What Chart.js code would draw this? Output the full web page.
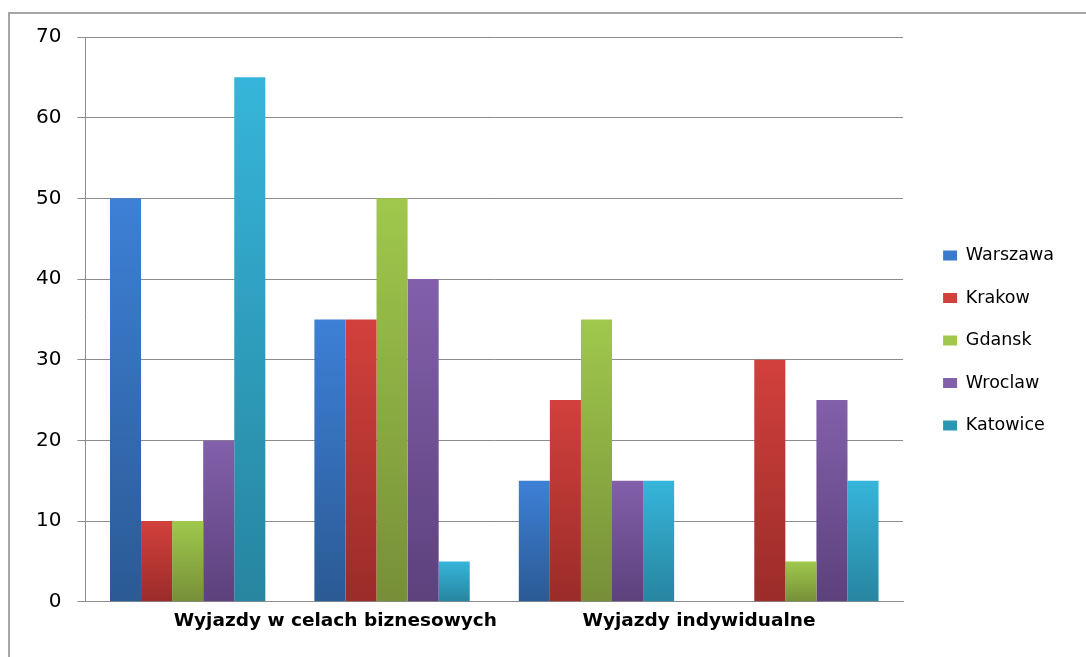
<!DOCTYPE html>
<html>
<head>
<meta charset="utf-8">
<script src="https://cdn.jsdelivr.net/npm/chart.js@4/dist/chart.umd.min.js"></script>
<style>
  html, body { margin: 0; padding: 0; background: #fff; }
  #wrap { position: relative; width: 1086px; height: 657px; }
  /* ramka wykresu - widoczna tylko z lewej i u gory */
  #frame { position: absolute; left: 8px; top: 12px; right: 0; bottom: 0;
           border-top: 2px solid #a6a6a6; border-left: 2px solid #a6a6a6; }
  #myChart { position: absolute; left: 0; top: 0; }
</style>
</head>
<body>
<div id="wrap">
  <div id="frame"></div>
  <canvas id="myChart" width="1086" height="657"></canvas>
</div>
<script>
// kategorie (etykiety osi X pokazane tylko co druga)
const categories = ["Wyjazdy w celach biznesowych", "", "Wyjazdy indywidualne", ""];

const cities = ["Warszawa", "Krakow", "Gdansk", "Wroclaw", "Katowice"];

const warszawa = [50, 35, 15, null];
const krakow = [10, 35, 25, 30];
const gdansk = [10, 50, 35, 5];
const wroclaw = [20, 40, 15, 25];
const katowice = [65, 5, 15, 15];

const yTicks = [0, 10, 20, 30, 40, 50, 60, 70];

// kolory: gora / dol gradientu
const topColors = ["#3d80d6", "#d2403c", "#a0c84c", "#8260aa", "#36b5da"];
const bottomColors = ["#2b5a94", "#9a2c29", "#768f38", "#5c417d", "#27859f"];
const midColors = ["#3570ba", "#bb3734", "#8cb042", "#715294", "#2f9fbf"];

const seriesData = [warszawa, krakow, gdansk, wroclaw, katowice];

function barGradient(i) {
  return (ctx) => {
    const chart = ctx.chart;
    const y = chart.scales && chart.scales.y;
    if (ctx.type !== "data" || !chart.chartArea || !y || ctx.raw == null) {
      return midColors[i];
    }
    const top = y.getPixelForValue(ctx.raw);
    const bottom = y.getPixelForValue(0);
    if (bottom - top < 1) return midColors[i];
    const g = chart.ctx.createLinearGradient(0, top, 0, bottom);
    g.addColorStop(0, topColors[i]);
    g.addColorStop(1, bottomColors[i]);
    return g;
  };
}

const ctx = document.getElementById("myChart");

new Chart(ctx, {
  type: "bar",
  data: {
    labels: categories,
    datasets: cities.map((name, i) => ({
      label: name,
      data: seriesData[i],
      backgroundColor: barGradient(i),
      borderWidth: 0,
      barPercentage: 1,
      categoryPercentage: 0.76,
    })),
  },
  options: {
    responsive: false,
    animation: false,
    devicePixelRatio: 1,
    layout: {
      padding: { left: 20, top: 37, right: 22, bottom: 25 },
    },
    plugins: {
      tooltip: { enabled: false },
      legend: {
        position: "right",
        // pusty tytul - lekko przesuwa legende w dol
        title: { display: true, text: " ", padding: 0, font: { size: 10 } },
        labels: {
          color: "#000",
          font: { family: "DejaVu Sans", size: 17.5 },
          boxWidth: 14,
          boxHeight: 10,
          padding: 25,
        },
      },
    },
    scales: {
      x: {
        grid: { display: false },
        border: { display: true, color: "#8c8c8c", width: 1 },
        ticks: {
          color: "#000",
          font: { family: "DejaVu Sans", size: 18.5, weight: "bold" },
          align: "start",
          labelOffset: -14,
          padding: 0,
          maxRotation: 0,
          autoSkip: false,
        },
      },
      y: {
        min: 0,
        max: 70,
        afterBuildTicks: (axis) => {
          axis.ticks = yTicks.map((v) => ({ value: v }));
        },
        grid: { color: "#8c8c8c", lineWidth: 1, tickLength: 8 },
        border: { display: true, color: "#8c8c8c", width: 1 },
        ticks: {
          color: "#000",
          font: { family: "DejaVu Sans", size: 20 },
          padding: 16,
        },
      },
      // pusta os - odstep miedzy wykresem a legenda
      spacer: {
        type: "linear",
        position: "right",
        grid: { display: false },
        border: { display: false },
        ticks: { display: false },
        afterFit: (axis) => {
          axis.width = 15;
        },
      },
    },
  },
});
</script>
</body>
</html>
